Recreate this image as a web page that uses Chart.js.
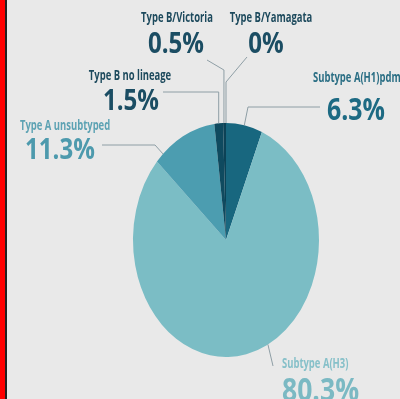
<!DOCTYPE html>
<html>
<head>
<meta charset="utf-8">
<script src="https://cdn.jsdelivr.net/npm/chart.js@4/dist/chart.umd.min.js"></script>
<style>
  html, body { margin: 0; padding: 0; background: #e9e9e9; }
  .wrap { position: relative; width: 400px; height: 399px; overflow: hidden; background: #e9e9e9; }
  .wrap canvas { position: absolute; left: 0; top: 0; }
  .edge-red { position: absolute; left: 0; top: 0; width: 5px; height: 399px; background: #ff0000; }
  .edge-dark { position: absolute; left: 5px; top: 0; width: 2px; height: 399px; background: #222; }
</style>
</head>
<body>
<div class="wrap">
  <canvas id="chart" width="400" height="399"></canvas>
  <div class="edge-red"></div>
  <div class="edge-dark"></div>
</div>
<script>
const categories = ['Subtype A(H1)pdm09', 'Subtype A(H3)', 'Type A unsubtyped', 'Type B no lineage', 'Type B/Victoria', 'Type B/Yamagata'];
const shares = [6.3, 80.3, 11.3, 1.5, 0.5, 0];
const shareLabels = ['6.3%', '80.3%', '11.3%', '1.5%', '0.5%', '0%'];
const sliceColors = ['#18677f', '#7bbdc5', '#4c9db0', '#0f4a5f', '#0c4256', '#0c4256'];

// the pie in the picture is squashed into an upright ellipse
const STRETCH_Y = 1.258;
// the original uses a condensed face, so text gets squeezed sideways
const SMALL_FONT = '700 13.5px "Open Sans", sans-serif';
const SMALL_SQUEEZE = 0.7;
const BIG_SQUEEZE = 0.83;
const bigFont = size => `700 ${size}px "Open Sans", sans-serif`;

// where each callout sits, in the same order as categories
const callouts = [
  { x: 313, align: 'left', nameY: 82, valueX: 327, valueY: 120, size: 30, nameColor: '#2a6e84', valueColor: '#1d6a83',
    path: [[320, 107], [248, 107]], frac: 0.5 },
  { x: 282, align: 'left', nameY: 368, valueX: 282, valueY: 401, size: 32, nameColor: '#86c0c9', valueColor: '#7bb9c3',
    path: [[273, 366]], frac: 0.451 },
  { x: 20, align: 'left', nameY: 130, valueX: 25, valueY: 159, size: 29, nameColor: '#5ca2b3', valueColor: '#4d9aad',
    path: [[102, 145], [155, 145]], frac: 0.13 },
  { x: 130, align: 'center', nameY: 80, valueX: 131, valueY: 110, size: 29, nameColor: '#1d4a5d', valueColor: '#1b4d63',
    path: [[163, 92]], elbowY: 92, frac: 0.5 },
  { x: 177, align: 'center', nameY: 22, valueX: 176, valueY: 53, size: 29, nameColor: '#1d4a5d', valueColor: '#1b4d63',
    path: [[207, 60]], elbowY: 70, frac: 0.3 },
  { x: 271, align: 'center', nameY: 22, valueX: 266, valueY: 53, size: 29, nameColor: '#1d4a5d', valueColor: '#1b4d63',
    path: [[247, 57]], elbowY: 82, frac: 0 }
];

function stretchAbout(ctx, arc) {
  ctx.translate(arc.x, arc.y);
  ctx.scale(1, STRETCH_Y);
  ctx.translate(-arc.x, -arc.y);
}

function squeezedText(ctx, text, x, y, align, squeeze) {
  ctx.save();
  ctx.translate(x, y);
  ctx.scale(squeeze, 1);
  ctx.textAlign = align;
  ctx.fillText(text, 0, 0);
  ctx.restore();
}

const ellipsePie = {
  id: 'ellipsePie',
  beforeDatasetsDraw(chart) {
    const arc = chart.getDatasetMeta(0).data[0];
    chart.ctx.save();
    stretchAbout(chart.ctx, arc);
  },
  afterDatasetsDraw(chart) {
    chart.ctx.restore();
  }
};

const calloutLabels = {
  id: 'calloutLabels',
  afterDraw(chart) {
    const ctx = chart.ctx;
    const arcs = chart.getDatasetMeta(0).data;
    ctx.save();
    arcs.forEach((arc, i) => {
      const c = callouts[i];
      const a = arc.startAngle + c.frac * (arc.endAngle - arc.startAngle);
      const ax = arc.x + arc.outerRadius * Math.cos(a);
      const ay = arc.y + arc.outerRadius * Math.sin(a) * STRETCH_Y;

      let pts = c.path.slice();
      if (c.elbowY !== undefined) pts.push([ax, c.elbowY]);
      pts.push([ax, ay]);
      ctx.strokeStyle = '#8e9ea5';
      ctx.lineWidth = 1;
      ctx.beginPath();
      ctx.moveTo(pts[0][0], pts[0][1]);
      pts.slice(1).forEach(p => ctx.lineTo(p[0], p[1]));
      ctx.stroke();

      ctx.textBaseline = 'alphabetic';
      ctx.font = SMALL_FONT;
      ctx.fillStyle = c.nameColor;
      squeezedText(ctx, categories[i], c.x, c.nameY, c.align, SMALL_SQUEEZE);
      ctx.font = bigFont(c.size);
      ctx.fillStyle = c.valueColor;
      squeezedText(ctx, shareLabels[i], c.valueX, c.valueY, c.align, BIG_SQUEEZE);
    });
    ctx.restore();
  }
};

const data = {
  labels: categories,
  datasets: [{
    data: shares,
    backgroundColor: sliceColors,
    borderWidth: 0,
    hoverOffset: 0,
    clip: false
  }]
};

const config = {
  type: 'pie',
  data: data,
  options: {
    animation: false,
    responsive: false,
    layout: {
      padding: { left: 133, right: 81, top: 147, bottom: 66 }
    },
    plugins: {
      legend: { display: false },
      tooltip: { enabled: false }
    }
  },
  plugins: [ellipsePie, calloutLabels]
};

let chart = new Chart(document.getElementById('chart'), config);
</script>
</body>
</html>
